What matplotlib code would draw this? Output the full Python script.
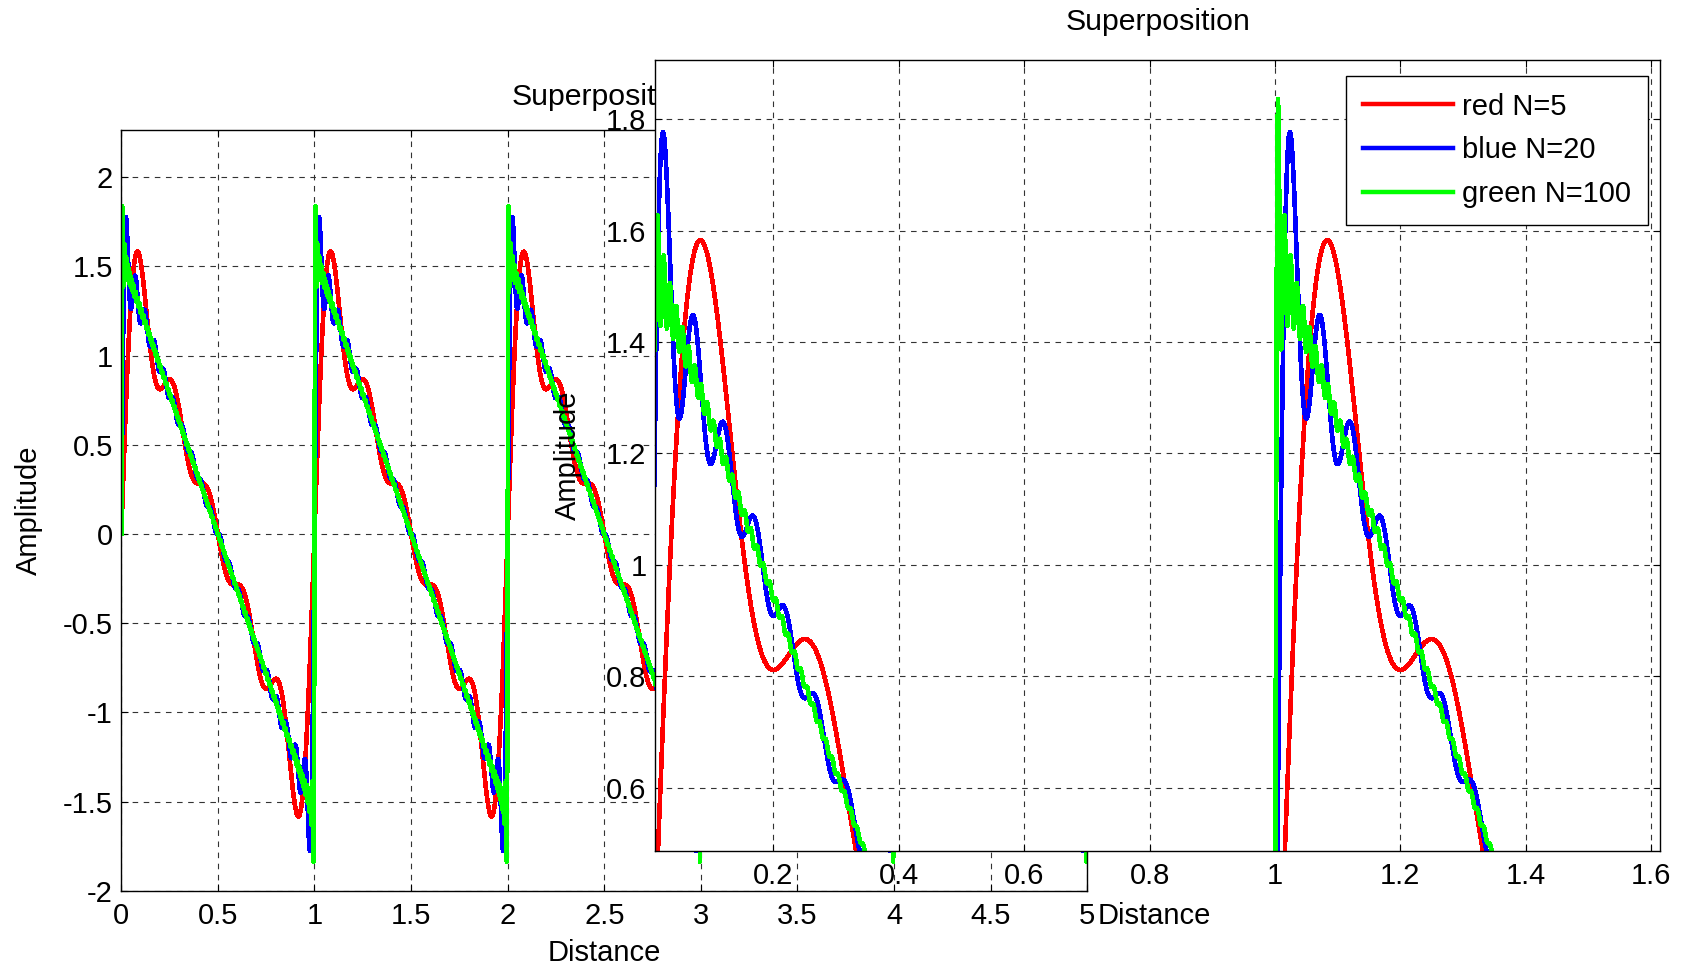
import numpy as np
import matplotlib
matplotlib.use("Agg")
import matplotlib.pyplot as plt
from matplotlib.ticker import FormatStrFormatter

plt.rcParams['font.family'] = ['Liberation Sans', 'DejaVu Sans']
plt.rcParams['axes.unicode_minus'] = False

# ---- data ----
series_labels = ["red N=5", "blue N=20", "green N=100"]
series_colors = ["#ff0000", "#0000ff", "#00ff00"]
harmonic_counts = [5, 20, 100]          # number of terms in each partial sum (legend)
distance_start = 0.0
distance_end = 5.0
distance_step = 0.001

left_xticks = [0, 0.5, 1, 1.5, 2, 2.5, 3, 3.5, 4, 4.5, 5]
left_yticks = [-2, -1.5, -1, -0.5, 0, 0.5, 1, 1.5, 2]
right_xticks = [0.2, 0.4, 0.6, 0.8, 1, 1.2, 1.4, 1.6]
right_yticks = [0.6, 0.8, 1.0, 1.2, 1.4, 1.6, 1.8]

# Superposition (partial Fourier sum of the sawtooth) for each N
distance = np.arange(distance_start, distance_end + distance_step / 2, distance_step)
amplitudes = []
for N in harmonic_counts:
    n = np.arange(1, N + 1)[:, None]
    amplitudes.append((np.sin(2 * np.pi * n * distance[None, :]) / n).sum(axis=0))

# ---- figure ----
W, H = 1683, 966
fig = plt.figure(figsize=(W / 100, H / 100), dpi=100)

def frac(x0, y0, x1, y1):
    # shrunk-reference pixel coords (1568x900) -> figure fractions
    sx, sy = 1568, 900
    return [x0 / sx, 1 - y1 / sy, (x1 - x0) / sx, (y1 - y0) / sy]

ax1 = fig.add_axes(frac(113, 121, 1013, 830))
ax2 = fig.add_axes(frac(610, 56, 1547, 793))

TICK_FS = 21
LABEL_FS = 21
TITLE_FS = 21.8
LW = 2.6

for ax in (ax1, ax2):
    for y, lab, col in zip(amplitudes, series_labels, series_colors):
        ax.plot(distance, y, color=col, lw=LW, label=lab, antialiased=False)
    ax.grid(True, color='0.2', lw=0.8, linestyle=(0, (5, 5)))
    ax.tick_params(direction='in', top=True, right=True, length=5, width=0.8,
                   labelsize=TICK_FS)
    ax.tick_params(axis='x', pad=8)
    ax.tick_params(axis='y', pad=6)
    for s in ax.spines.values():
        s.set_linewidth(1.0)
        s.set_color('black')
    ax.set_facecolor('white')
    ax.xaxis.set_major_formatter(FormatStrFormatter('%g'))
    ax.yaxis.set_major_formatter(FormatStrFormatter('%g'))
    ax.set_axisbelow(True)

ax1.set_xlim(0, 5)
ax1.set_ylim(-2, 2.265)
ax1.set_xticks(left_xticks)
ax1.set_yticks(left_yticks)

ax2.set_xlim(0.0106, 1.615)
ax2.set_ylim(0.486, 1.906)
ax2.set_xticks(right_xticks)
ax2.set_yticks(right_yticks)

ax1.set_title("Superposition", fontsize=TITLE_FS, y=1.0326, va='center')
ax2.set_title("Superposition", fontsize=TITLE_FS, y=1.038, va='center')

ax1.set_xlabel("Distance", fontsize=LABEL_FS, va='center')
ax1.xaxis.set_label_coords(0.5, -0.0815)
ax2.set_xlabel("Distance", fontsize=LABEL_FS, va='center')
ax2.xaxis.set_label_coords(0.497, -0.0815)

ax1.set_ylabel("Amplitude", fontsize=LABEL_FS, va='center')
ax1.yaxis.set_label_coords(-0.096, 0.5)
ax2.set_ylabel("Amplitude", fontsize=LABEL_FS, va='center')
ax2.yaxis.set_label_coords(-0.0865, 0.5)

leg = ax2.legend(loc='upper right', bbox_to_anchor=(0.9874, 0.980), borderaxespad=0,
                 fontsize=21, frameon=True, fancybox=False, framealpha=1,
                 edgecolor='black', handlelength=3.1, handletextpad=0.3,
                 labelspacing=0.54, borderpad=0.57)
leg.get_frame().set_linewidth(1.0)
for h in leg.get_lines():
    h.set_linewidth(3.2)

fig.savefig("out.png", dpi=100)
